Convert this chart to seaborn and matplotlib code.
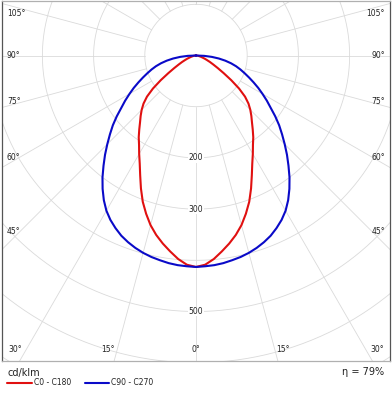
import numpy as np
import pandas as pd
import matplotlib
matplotlib.use('Agg')
import matplotlib.pyplot as plt
import seaborn as sns

# gamma angles (deg) and intensities (cd/klm)
gamma = [0, 2.5, 5, 7.5, 10, 12.5, 15, 17.5, 20, 22.5, 25, 27.5, 30, 32.5, 35, 37.5,
         40, 42.5, 45, 47.5, 50, 52.5, 55, 57.5, 60, 62.5, 65, 67.5, 70, 72.5, 75,
         77.5, 80, 82.5, 85, 87.5, 90]
c0_c180 = [413, 409, 399, 386, 373, 359, 343, 324, 304, 281, 258, 238, 222, 207, 195, 182,
           170, 160, 150, 139, 125, 106, 84, 64, 49, 38, 30, 23, 18, 13, 10,
           7, 5, 3, 2, 1, 0]
c90_c270 = [413, 412, 411, 409, 406, 403, 399, 394, 388, 381, 372, 362, 350, 335, 318, 300,
            281, 263, 245, 228, 212, 195, 178, 164, 150, 137, 124, 112, 101, 91, 81,
            70, 58, 45, 31, 16, 0]

ring_values = [100, 200, 300, 400, 500, 600, 700]
ring_labels = [200, 300, 500]
spoke_angles = list(range(-180, 181, 15))
efficiency = 'η = 79%'
unit = 'cd/klm'

W, H = 392, 400
CX, CY = 196, 55.5      # pole position in pixels
K = 1.953               # cd/klm per pixel

sns.set_style('white')
plt.rcParams['font.family'] = ['DejaVu Sans']

fig = plt.figure(figsize=(W / 100, H / 100), dpi=100)
ax = fig.add_axes([2 / W, 1 - 361 / H, 388 / W, 360 / H])
ax.set_xlim((2 - CX) * K, (390 - CX) * K)
ax.set_ylim((CY - 361) * K, (CY - 1) * K)
ax.set_aspect('equal', adjustable='box')
ax.set_xticks([])
ax.set_yticks([])
for side in ['left', 'right']:
    ax.spines[side].set_color('#555555')
for side in ['top', 'bottom']:
    ax.spines[side].set_color('#b0b0b0')
for s in ax.spines.values():
    s.set_linewidth(0.9)

gcol = '#dadada'
t = np.linspace(0, 2 * np.pi, 400)
for r in ring_values:
    ax.plot(r * np.sin(t), r * np.cos(t), color=gcol, lw=0.6, zorder=1)
for a in spoke_angles:
    rad = np.radians(a)
    ax.plot([100 * np.sin(rad), 900 * np.sin(rad)],
            [-100 * np.cos(rad), -900 * np.cos(rad)], color=gcol, lw=0.6, zorder=1)

for v in ring_labels:
    ax.text(0, -v, str(v), ha='center', va='center', fontsize=5.5, color='#222222',
            bbox=dict(facecolor='white', edgecolor='none', pad=0.3), zorder=2)


def px(x, y):
    return (x - CX) * K, (CY - y) * K


side_labels = [('105°', 14), ('90°', 55), ('75°', 102), ('60°', 157), ('45°', 231)]
for txt, yy in side_labels:
    ax.text(*px(7, yy), txt, ha='left', va='center', fontsize=5.5, color='#222222', zorder=2)
    ax.text(*px(385, yy), txt, ha='right', va='center', fontsize=5.5, color='#222222', zorder=2)
bottom_labels = [('30°', 15, 377), ('15°', 108, 283), ('0°', 196, None)]
for txt, xl, xr in bottom_labels:
    ax.text(*px(xl, 350), txt, ha='center', va='center', fontsize=5.5, color='#222222', zorder=2)
    if xr is not None:
        ax.text(*px(xr, 350), txt, ha='center', va='center', fontsize=5.5, color='#222222', zorder=2)

# curves: left half is the opposite C-plane (mirror)
rows = []
for name, vals in [('C0 - C180', c0_c180), ('C90 - C270', c90_c270)]:
    g = np.array(gamma, dtype=float)
    v = np.array(vals, dtype=float)
    gg = np.concatenate([-g[::-1], g[1:]])
    vv = np.concatenate([v[::-1], v[1:]])
    for i, (a, r) in enumerate(zip(gg, vv)):
        rad = np.radians(a)
        rows.append({'plane': name, 'order': i, 'x': r * np.sin(rad), 'y': -r * np.cos(rad)})
df = pd.DataFrame(rows)
palette = {'C0 - C180': '#e01010', 'C90 - C270': '#0a0ac8'}
sns.lineplot(data=df, x='x', y='y', hue='plane', units='plane', estimator=None, sort=False,
             palette=palette, lw=1.5, legend=False, ax=ax, zorder=3,
             solid_joinstyle='round')
ax.set_xlabel('')
ax.set_ylabel('')

# footer
fig.text(8 / W, 1 - 373 / H, unit, ha='left', va='center', fontsize=7, color='#222222')
fig.text(384 / W, 1 - 372 / H, efficiency, ha='right', va='center', fontsize=7, color='#222222')
for (x0, x1, xt), (name, col) in zip([(7, 32, 34), (85, 109, 111)], palette.items()):
    fig.add_artist(plt.Line2D([x0 / W, x1 / W], [1 - 382.5 / H] * 2, color=col, lw=1.5))
    fig.text(xt / W, 1 - 382.5 / H, name, ha='left', va='center', fontsize=5.5, color='#222222')

fig.savefig('out.png', dpi=100)
